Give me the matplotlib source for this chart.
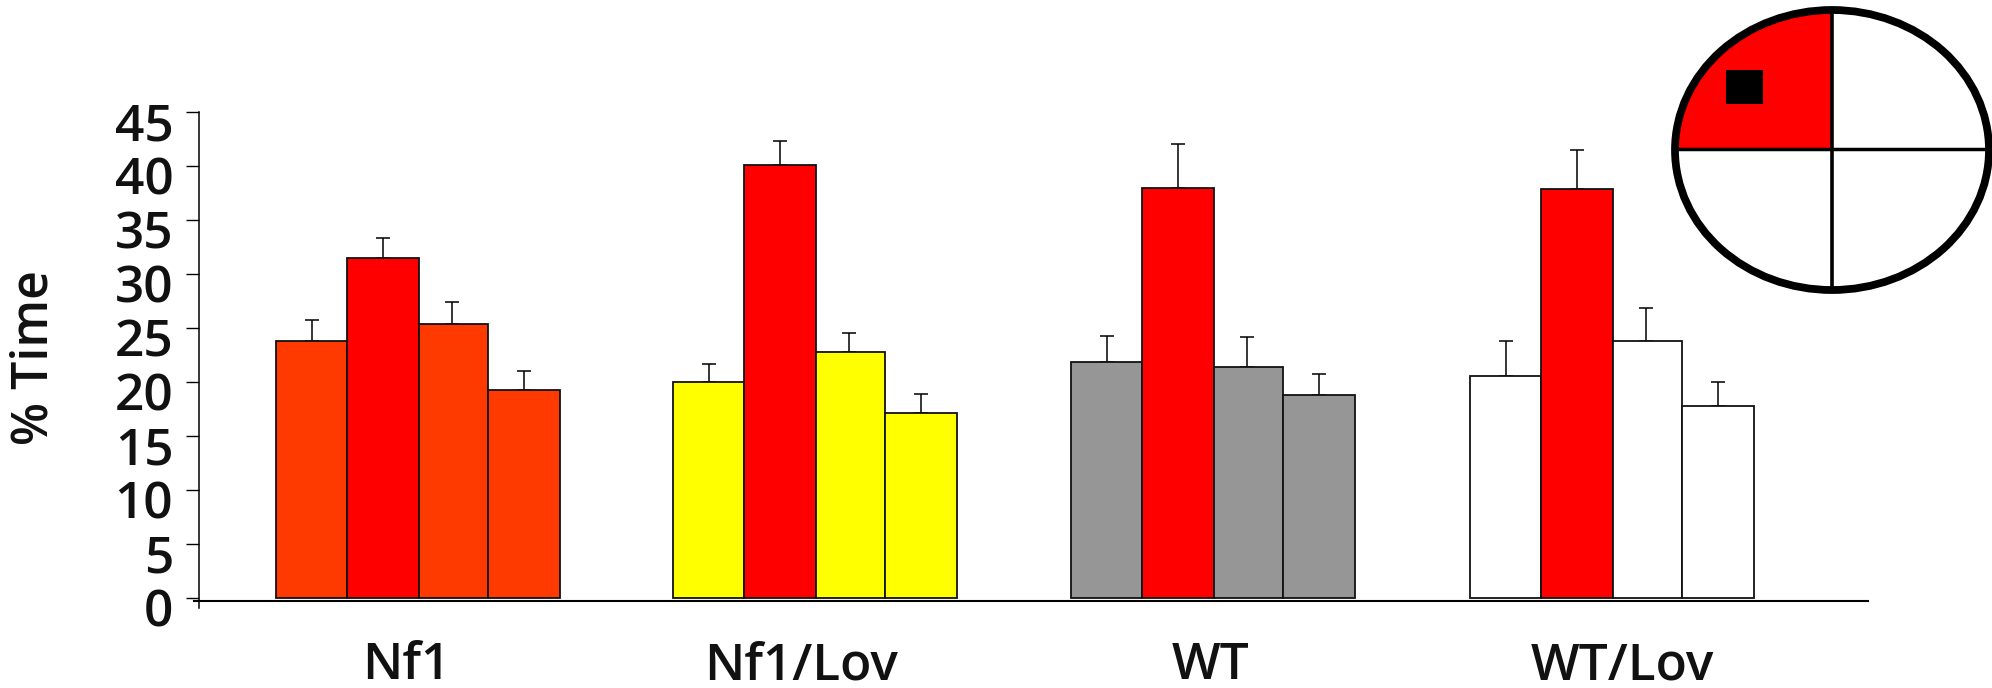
import matplotlib.pyplot as plt
from matplotlib.patches import Ellipse, Rectangle
from matplotlib.transforms import ScaledTranslation
import numpy as np

plt.rcParams['font.family'] = ['Open Sans', 'DejaVu Sans']
plt.rcParams['font.weight'] = 'semibold'

groups = ['Nf1', 'Nf1/Lov', 'WT', 'WT/Lov']
yticks = [0, 5, 10, 15, 20, 25, 30, 35, 40, 45]

nf1 = [23.8, 31.45, 25.35, 19.25]
nf1_lov = [20.0, 40.1, 22.7, 17.1]
wt = [21.8, 37.9, 21.35, 18.75]
wt_lov = [20.55, 37.8, 23.8, 17.75]

nf1_err = [1.9, 1.85, 2.05, 1.7]
nf1_lov_err = [1.6, 2.2, 1.8, 1.75]
wt_err = [2.4, 4.1, 2.75, 1.95]
wt_lov_err = [3.25, 3.6, 3.0, 2.25]

values = [nf1, nf1_lov, wt, wt_lov]
errors = [nf1_err, nf1_lov_err, wt_err, wt_lov_err]
side_colors = ['#FF3A00', '#FFFF00', '#969696', '#FFFFFF']

W, H = 1992, 688
fig = plt.figure(figsize=(W / 100, H / 100), dpi=100)

# axes in pixels on x, data units on y
left, right = 199, 1868
y0, y45 = 597.6, 111.6
ax = fig.add_axes([left / W, 1 - y0 / H, (right - left) / W, (y0 - y45) / H])
ax.set_xlim(left, right)
ax.set_ylim(0, 45)
ax.patch.set_alpha(0)

starts = [276, 673, 1071, 1470]
widths = [70.5, 72.5, 69, 72.3]
offsets = np.cumsum([0] + widths[:-1])
err_offsets = np.array([36, 107, 176, 247.5])

for i in range(4):
    xs = starts[i] + offsets
    cols = [side_colors[i], '#FF0000', side_colors[i], side_colors[i]]
    ax.bar(xs, values[i], widths, align='edge', color=cols, edgecolor='#111111',
           linewidth=1.3, zorder=3, clip_on=False)
    ax.errorbar(starts[i] + err_offsets, values[i], yerr=[np.zeros(4), errors[i]],
                fmt='none', ecolor='black', elinewidth=1.1, capsize=5.2, capthick=1.1, zorder=2)

for s in ['top', 'right', 'bottom']:
    ax.spines[s].set_visible(False)
ax.spines['left'].set_bounds(-1.0, 45)
ax.spines['left'].set_linewidth(1.1)
ax.axhline(-0.3, xmin=-0.003, color='black', lw=1.5, clip_on=False, zorder=4)

ax.set_yticks(yticks)
ax.set_yticklabels(yticks, fontsize=37, color='#111111')
ax.tick_params(axis='y', length=9.5, width=1, pad=9)
shift = ScaledTranslation(0, -10 / 100, fig.dpi_scale_trans)
for lab in ax.get_yticklabels():
    lab.set_transform(lab.get_transform() + shift)
ax.set_xticks([])

for g, x in zip(groups, [406, 801, 1211, 1622]):
    fig.text(x / W, 1 - 666 / H, g, fontsize=37, ha='center', va='center', color='#111111')
fig.text(35 / W, 1 - 358 / H, '% Time', fontsize=36, rotation=90, ha='center', va='center',
         color='#111111')

# maze inset, pixel coordinates
ov = fig.add_axes([0, 0, 1, 1])
ov.set_xlim(0, W)
ov.set_ylim(H, 0)
ov.axis('off')
ov.patch.set_alpha(0)
cx, cy, rx, ry = 1832, 150, 157, 140
ell = Ellipse((cx, cy), 2 * rx, 2 * ry, fc='white', ec='none')
ov.add_patch(ell)
red = Rectangle((cx - rx, cy - ry), rx, ry, fc='#FF0000', ec='none')
ov.add_patch(red)
red.set_clip_path(ell)
ov.plot([cx, cx], [cy - ry, cy + ry], color='black', lw=2.6)
ov.plot([cx - rx, cx + rx], [cy - 1, cy - 1], color='black', lw=2.5)
ov.add_patch(Ellipse((cx, cy), 2 * rx, 2 * ry, fc='none', ec='black', lw=5.6))
ov.add_patch(Rectangle((1726, 70), 37, 34, fc='black', ec='none'))

fig.savefig('out.png', dpi=100)
